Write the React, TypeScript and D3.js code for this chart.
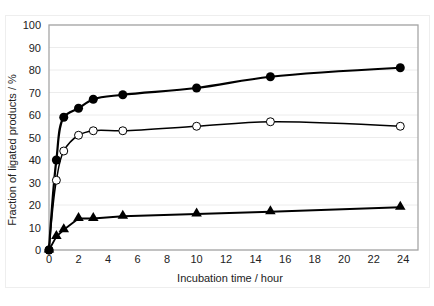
import React from "react";
import * as d3 from "d3";

const times = [0, 0.5, 1, 2, 3, 5, 10, 15, 23.8];
const filledCircle = [0, 40, 59, 63, 67, 69, 72, 77, 81];
const openCircle = [0, 31, 44, 51, 53, 53, 55, 57, 55];
const triangle = [0, 6, 9, 14, 14, 15, 16, 17, 19];
const xTicks = [0, 2, 4, 6, 8, 10, 12, 14, 16, 18, 20, 22, 24];
const yTicks = [0, 10, 20, 30, 40, 50, 60, 70, 80, 90, 100];

const W = 434, H = 306;
const L = 49, R = 418, T = 25, B = 250;

export default function App() {
  const x = d3.scaleLinear().domain([0, 25]).range([L, R]);
  const y = d3.scaleLinear().domain([0, 100]).range([B, T]);
  const pts = (vals: number[]) => times.map((t, i) => [x(t), y(vals[i])] as [number, number]);
  const smooth = d3.line().curve(d3.curveCatmullRom.alpha(0.5));
  const straight = d3.line();
  const font = "'Liberation Sans', Arial, sans-serif";
  const tri = d3.symbol(d3.symbolTriangle, 48)();
  return (
    <svg width={W} height={H} style={{ position: "absolute", left: 0, top: 0 }}>
      <rect x={0} y={0} width={W} height={H} fill="#fff" />
      <rect x={5.5} y={15.5} width={424} height={272} fill="none" stroke="#eeeeee" />
      {yTicks.map((v) => (
        <line key={v} x1={L} x2={R} y1={y(v)} y2={y(v)} stroke="#ececec" strokeWidth={1} />
      ))}
      <rect x={L} y={T} width={R - L} height={B - T} fill="none" stroke="#a6a6a6" strokeWidth={1.3} />
      {yTicks.map((v) => (
        <text key={v} x={41} y={y(v) + 4} textAnchor="end" fontFamily={font} fontSize={11} fill="#222">{v}</text>
      ))}
      {xTicks.map((v) => (
        <text key={v} x={x(v)} y={263} textAnchor="middle" fontFamily={font} fontSize={11} fill="#222">{v}</text>
      ))}
      <text x={230} y={282} textAnchor="middle" fontFamily={font} fontSize={11} fill="#222">Incubation time / hour</text>
      <text transform={`translate(16,150) rotate(-90)`} textAnchor="middle" fontFamily={font} fontSize={11} fill="#222">Fraction of ligated products / %</text>
      <path d={straight(pts(triangle)) || ""} fill="none" stroke="#000" strokeWidth={1.8} />
      <path d={smooth(pts(openCircle)) || ""} fill="none" stroke="#000" strokeWidth={1.5} />
      <path d={smooth(pts(filledCircle)) || ""} fill="none" stroke="#000" strokeWidth={2.2} />
      {pts(triangle).map(([px, py], i) => (
        <path key={"t" + i} d={tri || ""} transform={`translate(${px},${py - 0.5})`} fill="#000" />
      ))}
      {pts(openCircle).map(([px, py], i) => (
        <circle key={"o" + i} cx={px} cy={py} r={4} fill="#fff" stroke="#000" strokeWidth={1} />
      ))}
      {pts(filledCircle).map(([px, py], i) => (
        <circle key={"f" + i} cx={px} cy={py} r={4.5} fill="#000" />
      ))}
    </svg>
  );
}
